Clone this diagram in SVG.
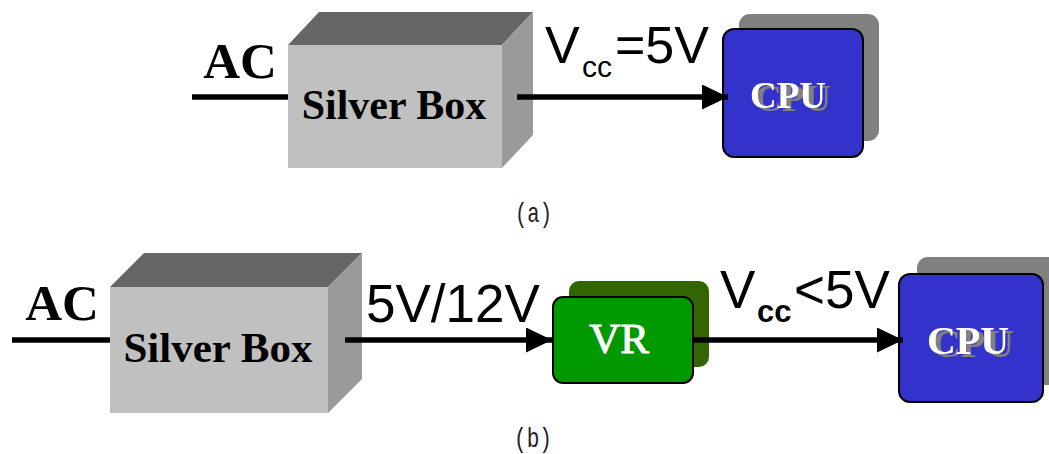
<svg xmlns="http://www.w3.org/2000/svg" width="1049" height="454" viewBox="0 0 1049 454">
  <defs>
    <marker id="arrow" markerUnits="userSpaceOnUse" markerWidth="27" markerHeight="26" refX="26" refY="12.5" orient="auto">
      <path d="M0,0 L26,12.5 L0,25 Z" fill="#000"/>
    </marker>
    <!-- grey drop shadow behind the white chip labels -->
    <filter id="textShadow" x="-20%" y="-30%" width="140%" height="160%">
      <feOffset in="SourceAlpha" dx="5" dy="3" result="off"/>
      <feFlood flood-color="#808080" result="grey"/>
      <feComposite in="grey" in2="off" operator="in" result="shadow"/>
      <feMerge>
        <feMergeNode in="shadow"/>
        <feMergeNode in="SourceGraphic"/>
      </feMerge>
    </filter>
  </defs>
  <style>
    .front { fill: #c0c0c0; }
    .top { fill: #666666; }
    .side { fill: #9a9a9a; }
    .serif { font-family: "Liberation Serif", "Times New Roman", serif; font-weight: bold; }
    .serif.plain { font-weight: normal; stroke: #fff; stroke-width: 1; }
    .sans { font-family: "Liberation Sans", Arial, sans-serif; fill: #000; }
    .cap { font-family: "Liberation Mono", "DejaVu Sans Mono", monospace; font-size: 28px; fill: #222; }
    .wire { stroke: #000; stroke-width: 5.5; fill: none; }
    .cpu { fill: #3333cc; stroke: #000; stroke-width: 2; }
    .cpuShadow { fill: #808080; }
    .vr { fill: #009900; stroke: #000; stroke-width: 2; }
    .vrShadow { fill: #336600; }
    .lbl { fill: #fff; }
  </style>

  <rect width="1049" height="454" fill="#fff"/>

  <!-- (a) direct supply -->
  <g id="ac-a">
    <text class="serif" x="240" y="78" font-size="51" text-anchor="middle">AC</text>
  </g>
  <g id="silverbox-a">
    <polygon class="top" points="288,45 319,12 533,12 502,45"/>
    <polygon class="side" points="502,45 533,12 533,135 502,168"/>
    <rect class="front" x="288" y="45" width="214" height="123"/>
    <text class="serif" x="394" y="119" font-size="42" text-anchor="middle">Silver Box</text>
  </g>
  <g id="cpu-a">
    <rect class="cpuShadow" x="739" y="14" width="140" height="127" rx="11"/>
    <rect class="cpu" x="723" y="29" width="140" height="128" rx="11"/>
    <text class="serif lbl" x="788" y="108" font-size="37" text-anchor="middle" filter="url(#textShadow)">CPU</text>
  </g>
  <g id="vcc-a">
    <text class="sans" x="545" y="63" font-size="52">V</text>
    <text class="sans" x="582" y="77" font-size="30">cc</text>
    <text class="sans" x="615" y="63" font-size="52">=5V</text>
  </g>
  <text class="cap" x="515" y="222" textLength="37" lengthAdjust="spacingAndGlyphs">(a)</text>

  <!-- (b) supply through a regulator -->
  <g id="ac-b">
    <text class="serif" x="62" y="320" font-size="51" text-anchor="middle">AC</text>
  </g>
  <g id="silverbox-b">
    <polygon class="top" points="110,287 144,253 362,253 328,287"/>
    <polygon class="side" points="328,287 362,253 362,379 328,413"/>
    <rect class="front" x="110" y="287" width="218" height="126"/>
    <text class="serif" x="218" y="362" font-size="43" text-anchor="middle">Silver Box</text>
  </g>
  <g id="vr">
    <rect class="vrShadow" x="569" y="281" width="140" height="86" rx="10"/>
    <rect class="vr" x="553" y="297" width="140" height="86" rx="10"/>
    <text class="serif plain lbl" x="619" y="353" font-size="43" text-anchor="middle">VR</text>
  </g>
  <g id="cpu-b">
    <rect class="cpuShadow" x="917" y="257" width="145" height="128" rx="11"/>
    <rect class="cpu" x="899" y="274" width="144" height="128" rx="11"/>
    <text class="serif lbl" x="968" y="354" font-size="40" text-anchor="middle" filter="url(#textShadow)">CPU</text>
  </g>
  <g id="label-512">
    <text class="sans" x="366" y="322" font-size="53">5V/12V</text>
  </g>
  <g id="vcc-b">
    <text class="sans" x="720" y="308" font-size="53">V</text>
    <text class="sans" x="757" y="322" font-size="31" font-weight="bold">cc</text>
    <text class="sans" x="794" y="308" font-size="53">&lt;5V</text>
  </g>
  <text class="cap" x="514" y="447" textLength="38" lengthAdjust="spacingAndGlyphs">(b)</text>

  <!-- connectors -->
  <g id="connectors">
    <line class="wire" x1="192" y1="97" x2="288" y2="97"/>
    <line class="wire" x1="517" y1="97" x2="728" y2="97" marker-end="url(#arrow)"/>
    <line class="wire" x1="12" y1="340" x2="110" y2="340"/>
    <line class="wire" x1="345" y1="340" x2="552" y2="340" marker-end="url(#arrow)"/>
    <line class="wire" x1="693" y1="340" x2="903" y2="340" marker-end="url(#arrow)"/>
  </g>
</svg>
